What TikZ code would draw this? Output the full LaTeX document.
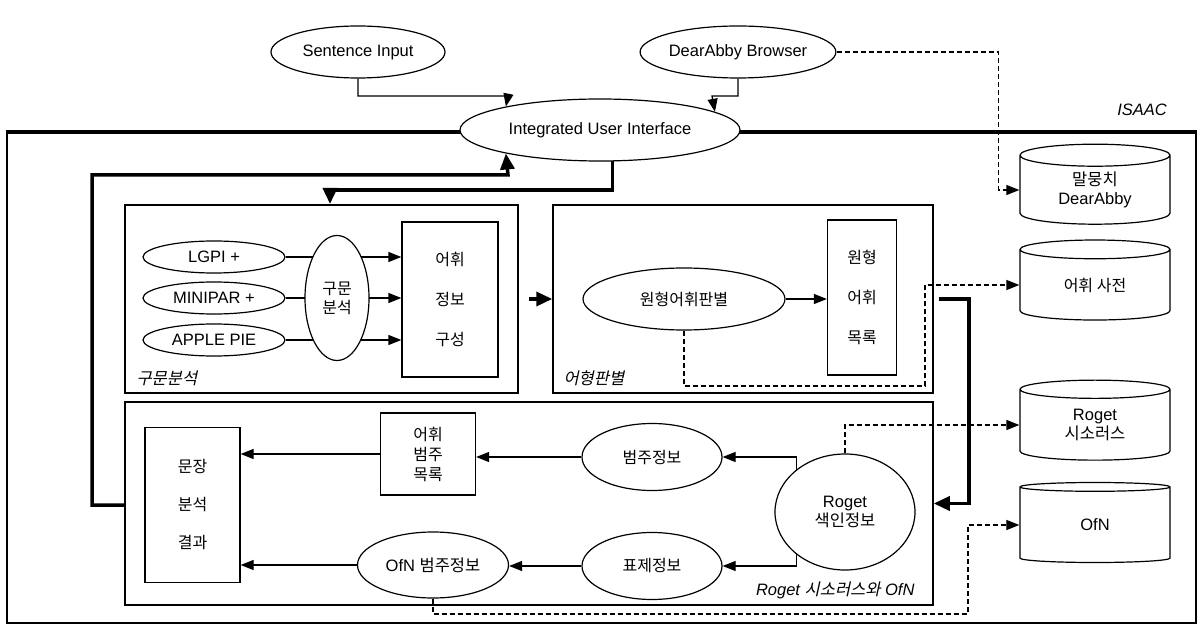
\documentclass[tikz,border=0pt]{standalone}
\usepackage{fontspec}
\setmainfont{Liberation Sans}
\newfontfamily\hangul{Noto Sans CJK KR}
\newfontfamily\hangulit{Noto Sans CJK KR}[FakeSlant=0.22]
\usetikzlibrary{shapes.geometric,arrows.meta,backgrounds}

\begin{document}
\begin{tikzpicture}[x=1pt, y=-1pt,
    font=\fontsize{16.5}{19}\selectfont,
    oval/.style={ellipse, draw, line width=1.2pt, fill=white, inner sep=0pt, align=center},
    listbox/.style={rectangle, draw, line width=1.2pt, fill=white, inner sep=0pt, align=center},
    module/.style={rectangle, draw, line width=1.5pt, inner sep=0pt},
    store/.style={cylinder, shape border rotate=90, aspect=0.3, draw, line width=1.2pt, minimum width=150pt, minimum height=80pt, inner sep=0pt, align=center},
    kr/.style={font=\hangul\fontsize{16}{19}\selectfont},
    spaced/.style={font=\hangul\fontsize{16}{40}\selectfont},
    tag/.style={font=\itshape\fontsize{16.5}{19}\selectfont},
    flow/.style={-{Triangle[length=13pt,width=10pt]}, line width=1.2pt},
    bigflow/.style={-{Triangle[length=16pt,width=14pt]}, line width=3.5pt},
    link/.style={-{Triangle[length=13pt,width=10pt]}, line width=1.2pt, dash pattern=on 5pt off 3pt}
  ]
    \useasboundingbox (0,0) rectangle (1200,628);

    % ISAAC frame
    \node[draw, line width=2pt, minimum width=1189pt, minimum height=490pt, inner sep=0pt] (isaac) at (601.5,378) {};
    \draw[line width=4pt] (isaac.north west) -- (isaac.north east);
    \node[tag] (isaactag) at (1142,110) {ISAAC};

    % User interface
    \node[oval, minimum width=174pt, minimum height=52pt] (sentence) at (358,52) {Sentence Input};
    \node[oval, minimum width=176pt, minimum height=52pt] (browser) at (738,52) {DearAbby Browser};
    \node[oval, minimum width=280pt, minimum height=62pt] (ui) at (600,130) {Integrated User Interface};

    % Modules
    \node[module, minimum width=393pt, minimum height=188pt] (parsing) at (321.5,299) {};
    \node[module, minimum width=380pt, minimum height=188pt] (lemma) at (743,299) {};
    \node[module, minimum width=808pt, minimum height=203pt] (roget) at (529,503.5) {};
    \node[tag, anchor=west] (parsingtag) at (133,378) {\hangulit 구문분석};
    \node[tag, anchor=west] (lemmatag) at (560,378) {\hangulit 어형판별};
    \node[tag, anchor=east] (rogettag) at (918,590) {Roget {\hangulit 시소러스와} OfN};

    % Parsing
    \foreach \name/\txt/\y in {lgpi/LGPI +/257, minipar/MINIPAR +/298, applepie/APPLE PIE/340}
      \node[oval, minimum width=142pt, minimum height=32pt] (\name) at (214,\y) {\txt};
    \node[oval, kr, minimum width=64pt, minimum height=125pt] (parser) at (337,298) {구문\\분석};
    \node[listbox, spaced, minimum width=96pt, minimum height=155pt] (lexinfo) at (450,299.5) {어휘\\정보\\구성};

    % Lemma
    \node[oval, kr, minimum width=202pt, minimum height=62pt] (lemmafind) at (684,299) {원형어휘판별};
    \node[listbox, spaced, minimum width=69pt, minimum height=155pt] (lemmalist) at (862,297.5) {원형\\어휘\\목록};

    % Roget and OfN
    \node[listbox, font=\hangul\fontsize{16}{38}\selectfont, minimum width=95pt, minimum height=155pt] (result) at (192.5,505) {문장\\분석\\결과};
    \node[listbox, font=\hangul\fontsize{16}{20}\selectfont, minimum width=95pt, minimum height=82pt] (catlist) at (428,454) {어휘\\범주\\목록};
    \node[oval, kr, minimum width=140pt, minimum height=67pt] (catinfo) at (652,457) {범주정보};
    \node[oval, kr, minimum width=140pt, minimum height=67pt] (headinfo) at (652,566) {표제정보};
    \node[oval, minimum width=140pt, minimum height=116pt] (rogetidx) at (845,512) {Roget\\{\hangul 색인정보}};
    \node[oval, minimum width=151pt, minimum height=66pt] (ofncat) at (433,565) {OfN {\hangul 범주정보}};

    % Resources
    \node[store] (corpus) at (1095,190) {{\hangul 말뭉치}\\DearAbby};
    \node[store, kr] (lexicon) at (1095,285) {어휘 사전};
    \node[store] (thesaurus) at (1095,425) {Roget\\{\hangul 시소러스}};
    \node[store] (ofn) at (1095,525) {OfN};

    % Connections
    \draw[flow] (sentence.south) |- (508,96) -- (ui.166);
    \draw[flow] (browser.south) |- (712,96) -- (ui.9);
    \draw[bigflow] (result.west -| roget.west) -- (92,505) |- (508,175) -- (ui.194);
    \draw[bigflow] (ui.292) |- (330,190) -- (330,204);

    \begin{scope}[on background layer]
      \foreach \src in {lgpi,minipar,applepie} {
        \draw[line width=1.2pt] (\src.east) -- (parser.center |- \src.east);
        \draw[flow] (parser.center |- \src.east) -- (lexinfo.west |- \src.east);
      }
    \end{scope}
    \draw[bigflow, shorten <=10pt] (parsing.east) -- (lemma.west);

    \draw[flow] (lemmafind.east) -- (lemmalist.west |- lemmafind.east);
    \draw[bigflow, shorten <=5pt] (lemma.east) -- ++(35,0) |- (roget.east);

    \draw[flow] (rogetidx.139) |- (catinfo.east);
    \draw[flow] (rogetidx.221) |- (headinfo.east);
    \draw[flow] (catinfo.west) -- (catlist.east |- catinfo.west);
    \draw[flow] (headinfo.west) -- (ofncat.east |- headinfo.west);
    \draw[flow] (catlist.west) -- (result.east |- catlist.west);
    \draw[flow] (ofncat.west) -- (result.east |- ofncat.west);

    \draw[link] (browser.east) -- ++(162,0) |- (corpus.west);
    \draw[link] (lemmafind.south) |- (925,386) |- (lexicon.west);
    \draw[link] (rogetidx.north) |- (thesaurus.west);
    \draw[link] (ofncat.south) |- (968,614) |- (ofn.west);

  \end{tikzpicture}
\end{document}
